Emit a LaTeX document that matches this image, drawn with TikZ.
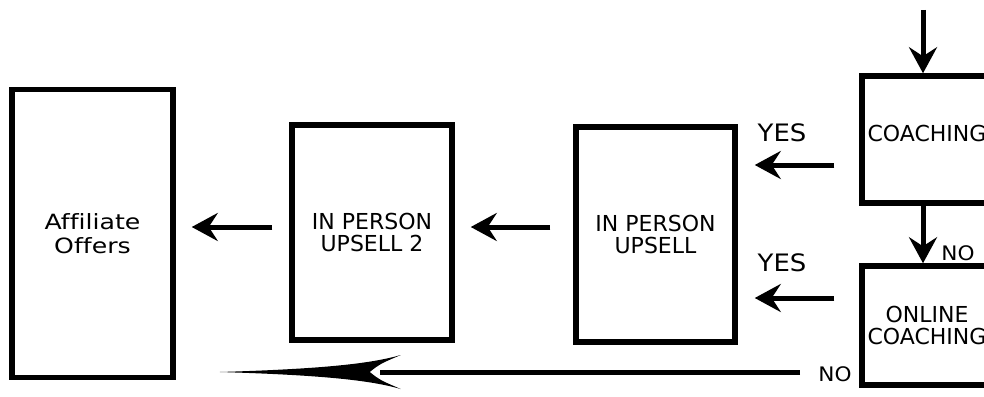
\documentclass[tikz,border=0pt]{standalone}
\usepackage{fontspec}
\setmainfont{DejaVu Sans}[Ligatures=CommonOff]
\newfontfamily\widefont{DejaVu Sans}[FakeStretch=1.08,Ligatures=CommonOff]
\newfontfamily\affont{DejaVu Sans}[FakeStretch=1.2,Ligatures=CommonOff]
\usetikzlibrary{arrows.meta,calc}
\tikzset{
  box/.style={draw, line width=5.5pt, rectangle, inner sep=0pt, align=center,
    font=\fontsize{22}{22}\selectfont},
  conn/.style={line width=5pt, -{Stealth[length=26pt,width=28pt,inset=9pt]}},
  plain/.style={line width=5pt},
  lbl/.style={inner sep=0pt, font=\widefont\fontsize{24}{26}\selectfont},
  slbl/.style={inner sep=0pt, font=\widefont\fontsize{20}{22}\selectfont},
}
\begin{document}
\begin{tikzpicture}[x=1pt,y=-1pt]
\useasboundingbox (0,0) rectangle (984,396);
\clip (0,0) rectangle (984,396);
% boxes
\node[box, minimum width=161pt, minimum height=288pt, font=\affont\fontsize{21}{24}\selectfont] (aff) at (92.5,233.5) {Affiliate\\Offers};
\node[box, minimum width=160pt, minimum height=215pt] (up2) at (372,232.5) {IN PERSON\\UPSELL 2};
\node[box, minimum width=159pt, minimum height=215pt] (ups) at (655.5,234.5) {IN PERSON\\UPSELL};
\node[box, minimum width=130pt, minimum height=127pt, text depth=12pt] (coach) at (927,139.5) {COACHING};
\node[box, minimum width=130pt, minimum height=119pt] (online) at (927,325.5) {ONLINE\\COACHING};
% labels
\node[lbl] (yes1) at (782,133) {YES};
\node[lbl] (yes2) at (782,263) {YES};
\node[slbl] (no1) at (958,253) {NO};
\node[slbl] (no2) at (835,374) {NO};
% connectors
\coordinate (top) at (923,10);
\draw[conn] (top) -- (top |- coach.north);
\draw[conn] (coach.south -| top) -- (online.north -| top);
\draw[conn, shorten <=25pt, shorten >=17pt] ($(coach.west)+(0,25.5)$) -- ($(ups.east |- coach.west)+(0,25.5)$);
\draw[conn, shorten <=25pt, shorten >=17pt] ($(online.west)+(0,-27.5)$) -- ($(ups.east |- online.west)+(0,-27.5)$);
\draw[conn, shorten <=23pt, shorten >=16pt] ($(ups.west)+(0,-7.5)$) -- ($(up2.east |- ups.west)+(0,-7.5)$);
\draw[conn, shorten <=17pt, shorten >=16pt] ($(up2.west)+(0,-5.5)$) -- ($(aff.east |- up2.west)+(0,-5.5)$);
% long bottom arrow
\coordinate (tipB) at ($(aff.east |- no2)+(44,-2)$);
\draw[plain, shorten <=18pt] (no2.west |- tipB) -- ($(tipB)+(160,0)$);
\fill (tipB) .. controls ($(tipB)+(100,-3)$) and ($(tipB)+(150,-8)$) .. ($(tipB)+(181,-17)$)
  .. controls ($(tipB)+(160,-8)$) .. ($(tipB)+(150,0)$)
  .. controls ($(tipB)+(160,8)$) .. ($(tipB)+(181,17)$)
  .. controls ($(tipB)+(150,8)$) and ($(tipB)+(100,3)$) .. (tipB) -- cycle;
\end{tikzpicture}
\end{document}
